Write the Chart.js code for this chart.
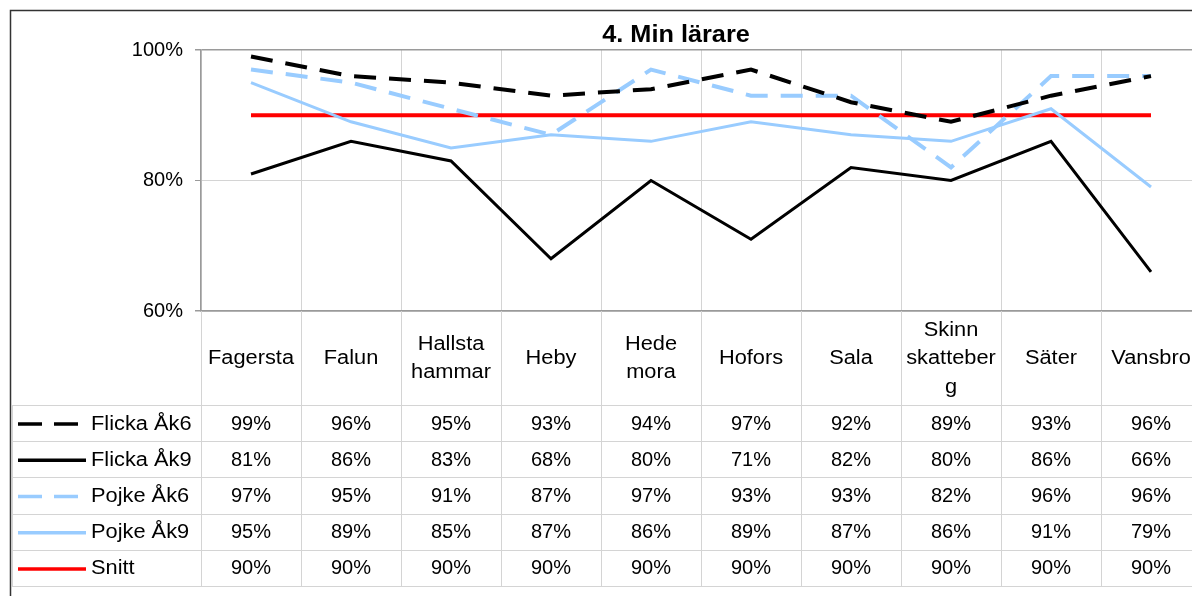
<!DOCTYPE html>
<html lang="sv">
<head>
<meta charset="utf-8">
<title>4. Min lärare</title>
<script src="https://cdn.jsdelivr.net/npm/chart.js"></script>
<style>
  html, body { margin: 0; padding: 0; background: #fff; overflow: hidden; }
  #wrap { position: relative; width: 1192px; height: 596px; overflow: hidden; }
  #chart { position: absolute; left: 0; top: 0; }
</style>
</head>
<body>
<div id="wrap">
  <canvas id="chart" width="1212" height="596"></canvas>
</div>
<script>
// kommuner (flera rader i tabellhuvudet)
const kommuner = [
  ['Fagersta'], ['Falun'], ['Hallsta', 'hammar'], ['Heby'], ['Hede', 'mora'],
  ['Hofors'], ['Sala'], ['Skinn', 'skatteber', 'g'], ['Säter'], ['Vansbro']
];

const flickaAk6 = [99, 96, 95, 93, 94, 97, 92, 89, 93, 96];
const flickaAk9 = [81, 86, 83, 68, 80, 71, 82, 80, 86, 66];
const pojkeAk6  = [97, 95, 91, 87, 97, 93, 93, 82, 96, 96];
const pojkeAk9  = [95, 89, 85, 87, 86, 89, 87, 86, 91, 79];
const snitt     = [90, 90, 90, 90, 90, 90, 90, 90, 90, 90];

const yTicks = [60, 80, 100];

const FONT = '"Liberation Sans", Arial, sans-serif';
const LJUSBLA = '#99ccff';

const serier = [
  { label: 'Flicka Åk6', data: flickaAk6, color: '#000000', dash: [22, 13], width: 4 },
  { label: 'Flicka Åk9', data: flickaAk9, color: '#000000', dash: [], width: 3 },
  { label: 'Pojke Åk6',  data: pojkeAk6,  color: LJUSBLA,   dash: [22, 13], width: 4 },
  { label: 'Pojke Åk9',  data: pojkeAk9,  color: LJUSBLA,   dash: [], width: 3 },
  { label: 'Snitt',      data: snitt,     color: '#ff0000', dash: [], width: 4 }
];

// text med något bredare glyfer
function ord(ctx, text, x, y, align, sx) {
  ctx.save();
  ctx.translate(x, y);
  ctx.scale(sx, 1);
  ctx.textAlign = align;
  ctx.fillText(text, 0, 0);
  ctx.restore();
}

// ram, rubrik och datatabell under diagrammet
const tabellPlugin = {
  id: 'tabell',
  beforeDraw(chart) {
    const ctx = chart.ctx;
    ctx.save();
    ctx.strokeStyle = '#333';
    ctx.lineWidth = 1.5;
    ctx.beginPath();
    ctx.moveTo(10.5, 600);
    ctx.lineTo(10.5, 10.5);
    ctx.lineTo(chart.width, 10.5);
    ctx.stroke();
    ctx.restore();
  },
  afterDraw(chart) {
    const ctx = chart.ctx;
    const x = chart.scales.x;
    const area = chart.chartArea;
    const half = (x.getPixelForValue(1) - x.getPixelForValue(0)) / 2;
    const headTop = area.bottom;
    const rowsTop = 405;
    const rowH = 36.2;
    const tableBottom = rowsTop + rowH * serier.length;

    ctx.save();
    // rubrik
    ctx.fillStyle = '#000';
    ctx.font = 'bold 23px ' + FONT;
    ctx.textBaseline = 'alphabetic';
    ord(ctx, '4. Min lärare', 676, 42, 'center', 1.1);

    // rutnät
    ctx.strokeStyle = '#d4d4d4';
    ctx.lineWidth = 1;
    ctx.beginPath();
    for (let i = 0; i <= kommuner.length; i++) {
      const px = Math.round(x.getPixelForValue(i) - half) + 0.5;
      ctx.moveTo(px, headTop);
      ctx.lineTo(px, tableBottom);
    }
    ctx.moveTo(12.5, rowsTop);
    ctx.lineTo(12.5, tableBottom);
    for (let r = 0; r <= serier.length; r++) {
      const py = Math.round(rowsTop + r * rowH) + 0.5;
      ctx.moveTo(12, py);
      ctx.lineTo(chart.width, py);
    }
    ctx.stroke();

    // kommunnamn
    ctx.font = '20px ' + FONT;
    ctx.textBaseline = 'middle';
    const headMid = (headTop + rowsTop) / 2 + 0.5;
    const lh = 28.5;
    kommuner.forEach((rader, i) => {
      const cx = x.getPixelForValue(i);
      const y0 = headMid - (rader.length - 1) * lh / 2;
      rader.forEach((t, k) => ord(ctx, t, cx, y0 + k * lh, 'center', 1.09));
    });

    // rader med teckenförklaring och värden
    serier.forEach((s, r) => {
      const cy = rowsTop + r * rowH + rowH / 2 + 1;
      ctx.save();
      ctx.strokeStyle = s.color;
      ctx.lineWidth = 3.5;
      ctx.setLineDash(s.dash.length ? [24, 12] : []);
      ctx.beginPath();
      ctx.moveTo(18, cy);
      ctx.lineTo(s.dash.length ? 79 : 86, cy);
      ctx.stroke();
      ctx.restore();

      ord(ctx, s.label, 91, cy, 'left', 1.09);
      ctx.textAlign = 'center';
      s.data.forEach((v, i) => ctx.fillText(v + '%', x.getPixelForValue(i), cy));
    });
    ctx.restore();
  }
};

new Chart(document.getElementById('chart'), {
  type: 'line',
  data: {
    labels: kommuner,
    datasets: serier.map(s => ({
      label: s.label,
      data: s.data,
      borderColor: s.color,
      borderWidth: s.width,
      borderDash: s.dash,
      borderCapStyle: 'butt',
      pointRadius: 0,
      pointHoverRadius: 0,
      tension: 0,
      fill: false
    }))
  },
  options: {
    responsive: false,
    animation: false,
    events: [],
    layout: { padding: { left: 0, top: 50, right: 11, bottom: 596 - 311 } },
    plugins: {
      legend: { display: false },
      title: { display: false },
      tooltip: { enabled: false }
    },
    scales: {
      x: {
        offset: true,
        grid: { offset: true, color: '#d4d4d4', drawTicks: false },
        border: { display: true, color: '#9a9a9a', width: 1.5 },
        ticks: { display: false },
        afterFit(scale) { scale.height = 0; }
      },
      y: {
        min: 60,
        max: 100,
        afterBuildTicks(scale) { scale.ticks = yTicks.map(v => ({ value: v })); },
        grid: {
          color: ctx => (ctx.tick && (ctx.tick.value === 100 || ctx.tick.value === 60)) ? '#9a9a9a' : '#d4d4d4',
          lineWidth: ctx => (ctx.tick && (ctx.tick.value === 100 || ctx.tick.value === 60)) ? 1.5 : 1,
          tickLength: 6,
          tickColor: '#9a9a9a'
        },
        border: { display: true, color: '#9a9a9a', width: 1.5 },
        ticks: {
          color: '#000',
          padding: 12,
          font: { family: FONT, size: 20 },
          callback: v => v + '%'
        },
        afterFit(scale) { scale.width = 201; }
      }
    }
  },
  plugins: [tabellPlugin]
});
</script>
</body>
</html>
